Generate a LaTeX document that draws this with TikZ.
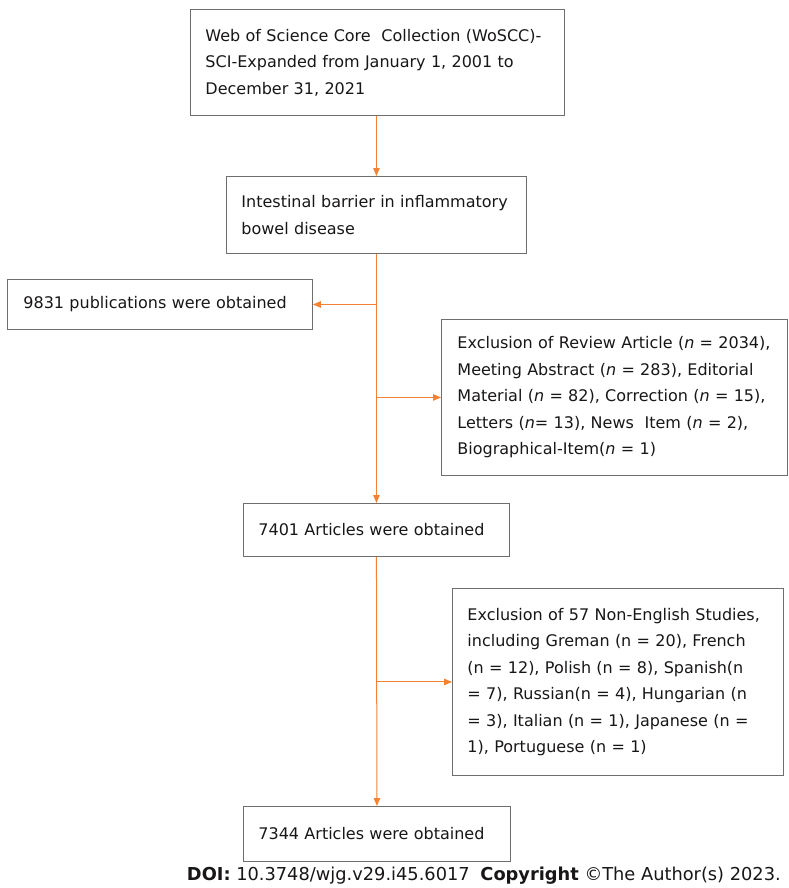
\documentclass[tikz,border=0pt]{standalone}
\usepackage{fontspec}
\setmainfont{DejaVu Sans}
\usetikzlibrary{arrows.meta}
\definecolor{orng}{RGB}{245,130,50}
\definecolor{boxgray}{RGB}{110,110,110}
\definecolor{txt}{RGB}{25,22,23}
\tikzset{
  box/.style={draw=boxgray, line width=0.9pt, rectangle, anchor=north west,
    align=left, inner xsep=15pt, inner ysep=0pt, text=txt,
    font=\fontsize{16}{26.5}\selectfont},
  conn/.style={draw=orng, line width=1pt},
  arr/.style={conn, -{Triangle[length=8pt,width=6.5pt]}},
}
\begin{document}
\begin{tikzpicture}[x=1pt,y=-1pt]
\useasboundingbox (0,0) rectangle (788,888);
\node[box, text width=344pt, minimum height=106pt] (b1) at (190,9)
  {Web of Science Core\ \ Collection (WoSCC)-\\SCI-Expanded from January 1, 2001 to\\December 31, 2021};
\node[box, text width=270pt, minimum height=77pt] (b2) at (226,176)
  {Intestinal barrier in inflammatory\\bowel disease};
\node[box, minimum height=50pt, inner xsep=16pt, text width=273pt] (b3) at (7,279)
  {9831 publications were obtained};
\node[box, minimum height=156pt, inner xsep=16pt, text width=314pt] (e1) at (441,319)
  {Exclusion of Review Article (\textit{n} = 2034),\\Meeting Abstract (\textit{n} = 283), Editorial\\Material (\textit{n} = 82), Correction (\textit{n} = 15),\\Letters (\textit{n}= 13), News\ \ Item (\textit{n} = 2),\\Biographical-Item(\textit{n} = 1)};
\node[box, text width=236pt, minimum height=53pt] (b4) at (243,503)
  {7401 Articles were obtained};
\node[box, text width=301pt, minimum height=187pt] (e2) at (452,588)
  {Exclusion of 57 Non-English Studies,\\including Greman (n = 20), French\\(n = 12), Polish (n = 8), Spanish(n\\= 7), Russian(n = 4), Hungarian (n\\= 3), Italian (n = 1), Japanese (n =\\1), Portuguese (n = 1)};
\node[box, text width=237pt, minimum height=55pt] (b5) at (243,806)
  {7344 Articles were obtained};
\draw[arr] (b2.north |- b1.south) -- (b2.north);
\draw[arr] (b2.south) -- (b4.north);
\draw[arr] (b2.south |- b3.east) -- (b3.east);
\draw[arr] (b2.south |- e1.west) -- (e1.west);
\draw[arr] (b4.south) -- (b5.north);
\draw[arr] (b4.south |- e2.west) -- (e2.west);
\node[anchor=base east, inner sep=0pt, text=txt, font=\fontsize{17.8}{18}\selectfont] (doi) at (781,880)
  {\textbf{DOI:} 10.3748/wjg.v29.i45.6017\hspace{0.6em}\textbf{Copyright} ©The Author(s) 2023.};
\end{tikzpicture}
\end{document}
